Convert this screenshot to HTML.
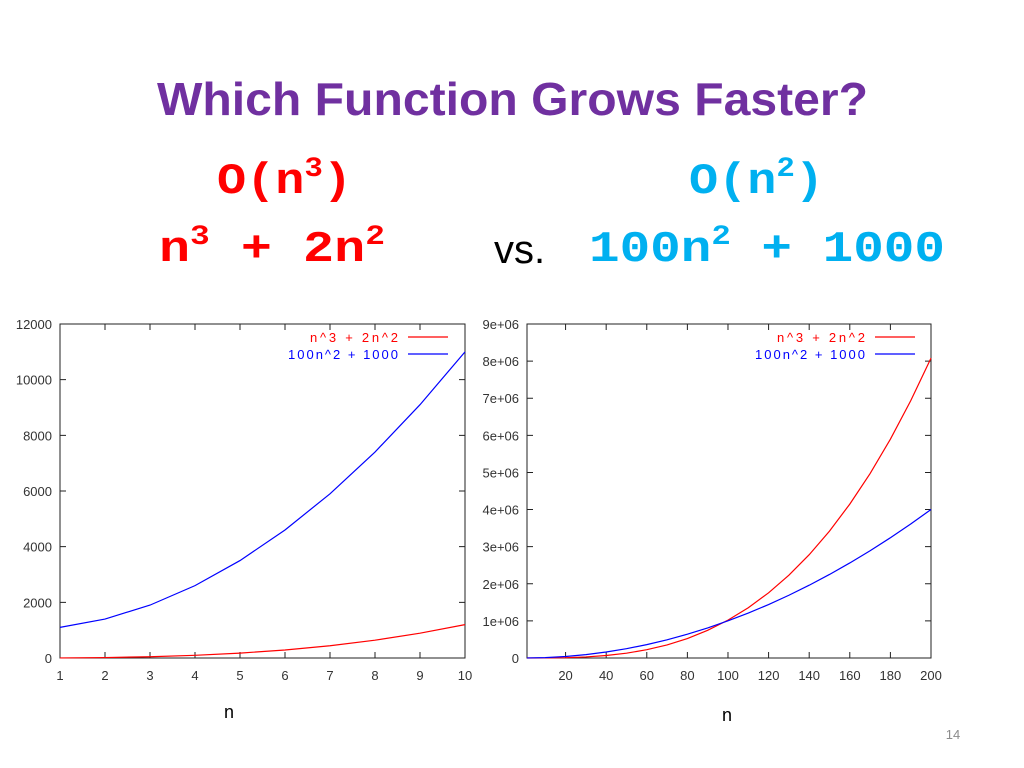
<!DOCTYPE html>
<html><head><meta charset="utf-8"><style>
html,body{margin:0;padding:0;background:#fff;}
svg{display:block;}
</style></head><body>
<svg id="s" width="1024" height="768" viewBox="0 0 1024 768" xmlns="http://www.w3.org/2000/svg">
<text x="157" y="115" textLength="711" lengthAdjust="spacingAndGlyphs" font-family="Liberation Sans, sans-serif" font-weight="bold" font-size="46" fill="#7030A0">Which Function Grows Faster?</text>
<g font-family="Liberation Mono, monospace" font-weight="bold" font-size="44">
<text x="217" y="193" textLength="135" lengthAdjust="spacingAndGlyphs" fill="#ff0000">O(n<tspan font-size="28" dy="-17">3</tspan><tspan dy="17">)</tspan></text>
<text x="159" y="261" textLength="226" lengthAdjust="spacingAndGlyphs" fill="#ff0000">n<tspan font-size="28" dy="-17">3</tspan><tspan dy="17"> + 2n</tspan><tspan font-size="28" dy="-17">2</tspan></text>
<text x="689" y="193" textLength="135" lengthAdjust="spacingAndGlyphs" fill="#00b0f0">O(n<tspan font-size="28" dy="-17">2</tspan><tspan dy="17">)</tspan></text>
<text x="589" y="261" textLength="356" lengthAdjust="spacingAndGlyphs" fill="#00b0f0">100n<tspan font-size="28" dy="-17">2</tspan><tspan dy="17"> + 1000</tspan></text>
</g>
<text x="494" y="263" font-family="Liberation Sans, sans-serif" font-size="40" fill="#000">vs.</text>
<text x="229" y="718" text-anchor="middle" font-family="Liberation Mono, monospace" font-size="18" fill="#000">n</text>
<text x="727" y="721" text-anchor="middle" font-family="Liberation Mono, monospace" font-size="18" fill="#000">n</text>
<text x="953" y="739" text-anchor="middle" font-family="Liberation Sans, sans-serif" font-size="13" fill="#8c8c8c">14</text>
<g id="left"></g>
<g id="right"></g>
</svg>
<script>
const leftN = [1,2,3,4,5,6,7,8,9,10];
const leftCubic = [3,16,45,96,175,288,441,640,891,1200];
const leftQuad = [1100,1400,1900,2600,3500,4600,5900,7400,9100,11000];
const leftXTicks = [1,2,3,4,5,6,7,8,9,10];
const leftXTickLabels = ["1","2","3","4","5","6","7","8","9","10"];
const leftYTicks = [0,2000,4000,6000,8000,10000,12000];
const leftYTickLabels = ["0","2000","4000","6000","8000","10000","12000"];

const rightN = [1,10,20,30,40,50,60,70,80,90,100,110,120,130,140,150,160,170,180,190,200];
const rightCubic = [3,1200,8800,28800,67200,130000,223200,352800,524800,745200,1020000,1355200,1756800,2230800,2783200,3420000,4147200,4970800,5896800,6931200,8080000];
const rightQuad = [1100,11000,41000,91000,161000,251000,361000,491000,641000,811000,1001000,1211000,1441000,1691000,1961000,2251000,2561000,2891000,3241000,3611000,4001000];
const rightXTicks = [20,40,60,80,100,120,140,160,180,200];
const rightXTickLabels = ["20","40","60","80","100","120","140","160","180","200"];
const rightYTicks = [0,1e6,2e6,3e6,4e6,5e6,6e6,7e6,8e6,9e6];
const rightYTickLabels = ["0","1e+06","2e+06","3e+06","4e+06","5e+06","6e+06","7e+06","8e+06","9e+06"];

const NS = "http://www.w3.org/2000/svg";
function mk(tag, attrs, parent){ const e=document.createElementNS(NS,tag); for(const k in attrs) e.setAttribute(k,attrs[k]); parent.appendChild(e); return e; }

function chart(g, cfg){
  const {x0,x1,y0,y1,xmin,xmax,ymax,xt,xtl,yt,ytl,n,red,blue,legX} = cfg;
  const sx = v => x0 + (v-xmin)/(xmax-xmin)*(x1-x0);
  const sy = v => y1 - v/ymax*(y1-y0);
  const frame = mk('rect',{x:x0,y:y0,width:x1-x0,height:y1-y0,fill:'none',stroke:'#222','stroke-width':1},g);
  
  
  xt.forEach((v,i)=>{
    const x=sx(v);
    const t=mk('path',{d:`M${x},${y1}v-6M${x},${y0}v6`,stroke:'#222','stroke-width':1},g);
    
    
    const l=mk('text',{x:x,y:y1+22,'text-anchor':'middle','font-family':'Liberation Sans, sans-serif','font-size':13,fill:'#333'},g);
    
    
    l.textContent=xtl[i];
  });
  yt.forEach((v,i)=>{
    const y=sy(v);
    const t=mk('path',{d:`M${x0},${y}h6M${x1},${y}h-6`,stroke:'#222','stroke-width':1},g);
    
    
    const l=mk('text',{x:x0-8,y:y+5,'text-anchor':'end','font-family':'Liberation Sans, sans-serif','font-size':13,fill:'#333'},g);
    
    
    l.textContent=ytl[i];
  });
  const r=mk('polyline',{points:n.map((v,i)=>sx(v)+','+sy(red[i])).join(' '),fill:'none',stroke:'#ff0000','stroke-width':1.2},g);
  
  
  const b=mk('polyline',{points:n.map((v,i)=>sx(v)+','+sy(blue[i])).join(' '),fill:'none',stroke:'#0000ff','stroke-width':1.2},g);
  
  
  [['n^3 + 2n^2','#ff0000',337,88],['100n^2 + 1000','#0000ff',354,110]].forEach(([txt,c,y,w])=>{
    const t=mk('text',{x:legX-w,y:y+5,textLength:w,lengthAdjust:'spacing','font-family':'Liberation Sans, sans-serif','font-size':13,fill:c},g);
    
    
    t.textContent=txt;
    const ln=mk('line',{x1:legX+10,x2:legX+50,y1:y,y2:y,stroke:c,'stroke-width':1.2},g);
    
    
  });
}
chart(document.getElementById('left'),{x0:60,x1:465,y0:324,y1:658,xmin:1,xmax:10,ymax:12000,xt:leftXTicks,xtl:leftXTickLabels,yt:leftYTicks,ytl:leftYTickLabels,n:leftN,red:leftCubic,blue:leftQuad,legX:398});
chart(document.getElementById('right'),{x0:527,x1:931,y0:324,y1:658,xmin:1,xmax:200,ymax:9e6,xt:rightXTicks,xtl:rightXTickLabels,yt:rightYTicks,ytl:rightYTickLabels,n:rightN,red:rightCubic,blue:rightQuad,legX:865});
</script>
</body></html>
